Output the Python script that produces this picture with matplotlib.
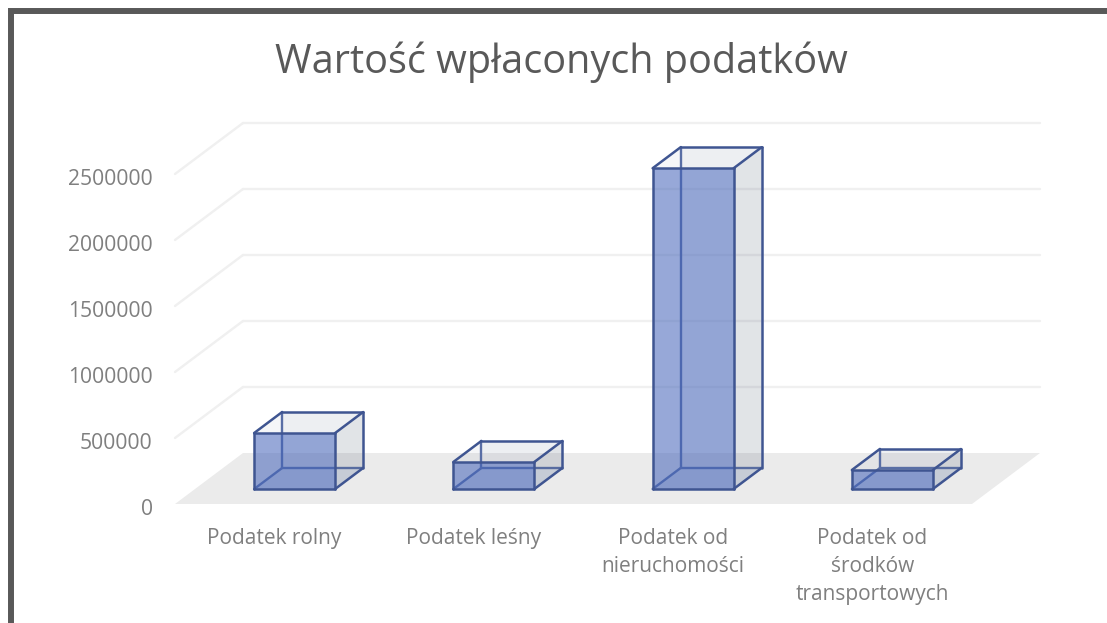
import matplotlib
matplotlib.use("Agg")
import matplotlib.pyplot as plt
from matplotlib.patches import Polygon, Rectangle
from matplotlib.transforms import ScaledTranslation

categories = ["Podatek rolny", "Podatek leśny", "Podatek od\nnieruchomości", "Podatek od\nśrodków\ntransportowych"]
values = [424000, 205000, 2430000, 144000]
yticks = [0, 500000, 1000000, 1500000, 2000000, 2500000]
title = "Wartość wpłaconych podatków"

W, H = 1107, 623
DEPTH_X = 68 / 199.25      # back wall shift, category units
DEPTH_Y = 51 / 66 * 500000  # back wall shift, value units
BAR_W = 81 / 199.25
D0, D1 = 0.294, 0.706      # bar front/back depth

BLUE = "#4262B8"
EDGE = "#3F5591"
GRID = "#F0F0F0"
FLOOR = "#EBEBEB"

plt.rcParams["font.family"] = ["Open Sans", "DejaVu Sans"]

fig = plt.figure(figsize=(W / 100, H / 100), dpi=100, facecolor="white")
ax = fig.add_axes([175 / W, (H - 504) / H, 797 / W, 330 / H])
ax.set_xlim(-0.5, 3.5)
ax.set_ylim(0, 2500000)
ax.patch.set_visible(False)
for s in ax.spines.values():
    s.set_visible(False)


def proj(x, v, d):
    # oblique projection of (category, value, depth) onto the axes
    return (x + d * DEPTH_X, v + d * DEPTH_Y)


def face(pts, color, alpha, z):
    ax.add_patch(Polygon([proj(*p) for p in pts], closed=True, facecolor=color, alpha=alpha,
                         edgecolor="none", clip_on=False, zorder=z))


def edge(a, b, z, color=EDGE, lw=1.8):
    pa, pb = proj(*a), proj(*b)
    ax.plot([pa[0], pb[0]], [pa[1], pb[1]], color=color, lw=lw, clip_on=False,
            zorder=z, solid_capstyle="round")


# walls and floor
for t in yticks[1:]:
    edge((-0.5, t, 0), (-0.5, t, 1), 1, GRID, 1.7)
    edge((-0.5, t, 1), (3.5, t, 1), 1, GRID, 1.7)
face([(-0.5, 0, 0), (-0.5, 0, 1), (3.5, 0, 1), (3.5, 0, 0)], FLOOR, 1, 2)

for i, v in enumerate(values):
    x0, x1 = i - BAR_W / 2, i + BAR_W / 2
    # hidden faces
    face([(x0, 0, D1), (x1, 0, D1), (x1, v, D1), (x0, v, D1)], "#44507A", 0.04, 3)
    face([(x0, 0, D0), (x1, 0, D0), (x1, 0, D1), (x0, 0, D1)], BLUE, 0.10, 3)
    # hidden edges
    for a, b in [((x0, 0, D0), (x0, 0, D1)), ((x0, 0, D1), (x1, 0, D1)), ((x0, 0, D1), (x0, v, D1))]:
        edge(a, b, 4, "#5B70A8", 1.7)
    # visible faces
    face([(x1, 0, D0), (x1, 0, D1), (x1, v, D1), (x1, v, D0)], "#44546A", 0.12, 5)
    face([(x0, v, D0), (x1, v, D0), (x1, v, D1), (x0, v, D1)], "#44507A", 0.05, 5)
    face([(x0, 0, D0), (x1, 0, D0), (x1, v, D0), (x0, v, D0)], BLUE, 0.55, 5)
    # visible edges
    front = [(x0, 0, D0), (x1, 0, D0), (x1, v, D0), (x0, v, D0), (x0, 0, D0)]
    for a, b in zip(front[:-1], front[1:]):
        edge(a, b, 6)
    for a, b in [((x0, v, D0), (x0, v, D1)), ((x0, v, D1), (x1, v, D1)), ((x1, v, D1), (x1, v, D0)),
                 ((x1, v, D1), (x1, 0, D1)), ((x1, 0, D1), (x1, 0, D0))]:
        edge(a, b, 6)

ax.set_xticks(range(len(categories)))
ax.set_xticklabels(categories, linespacing=1.46)
ax.set_yticks(yticks)
ax.set_yticklabels([str(t) for t in yticks])
ax.tick_params(axis="x", length=0, pad=17, labelsize=15, labelcolor="#7F7F7F")
ax.tick_params(axis="y", length=0, pad=16, labelsize=15.2, labelcolor="#7F7F7F")
# y labels sit a little below their value
down = ScaledTranslation(0, -2 / 72, fig.dpi_scale_trans)
for lab in ax.get_yticklabels():
    lab.set_transform(lab.get_transform() + down)

fig.text(561 / W, 1 - 62 / H, title, ha="center", va="center", fontsize=28.5, color="#595959")

# outer frame runs off the right and bottom of the picture
fig.add_artist(Rectangle((10.5 / W, -0.2), 1.2, 1.2 - 11 / H, transform=fig.transFigure,
                         fill=False, edgecolor="#595959", lw=4.3))

fig.savefig("out.png", dpi=100)
